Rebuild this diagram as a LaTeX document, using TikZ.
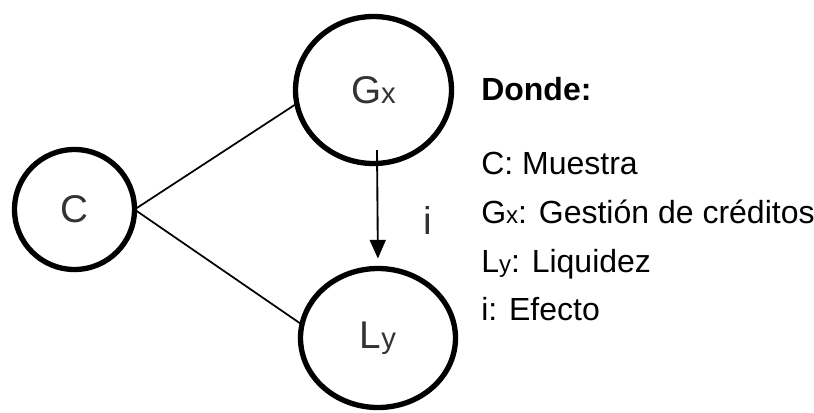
\documentclass[tikz,border=0pt]{standalone}
\usepackage{fontspec}
\setmainfont{Liberation Sans}
\usetikzlibrary{shapes.geometric,arrows.meta}
\begin{document}
\begin{tikzpicture}[x=0.75pt,y=-0.75pt,
  var/.style={ellipse,draw,line width=4pt,inner sep=0pt,outer sep=0pt,
    font=\fontsize{29}{34}\selectfont,text=black!80},
  link/.style={line width=1.3pt},
  effect/.style={line width=1.4pt,-{Triangle[length=14pt,width=12pt]}},
  legend/.style={anchor=base west,inner sep=0pt,font=\fontsize{24}{28}\selectfont},
  lbl/.style={inner sep=0pt,font=\fontsize{29}{34}\selectfont,text=black!80}]
\useasboundingbox (0,0) rectangle (814,412);
\node[var,minimum width=90pt,minimum height=90pt] (C) at (74.5,209.5) {C};
\node[var,minimum width=117pt,minimum height=110.25pt] (Gx) at (373.5,90) {G{\fontsize{22}{26}\selectfont x}};
\node[var,minimum width=116.25pt,minimum height=104.25pt] (Ly) at (378,338) {L{\fontsize{22}{26}\selectfont y}};
\coordinate (as) at (377,150);
\draw[link] (C.east) -- (Gx.190);
\draw[link] (C.east) -- (Ly.170);
\draw[effect,shorten >=7.5pt] (as) -- (Ly.north);
\node[lbl] (i) at (428,220) {i};
\node[legend,font=\bfseries\fontsize{24}{28}\selectfont] (donde) at (481,100) {Donde:};
\node[legend] (lc) at (481,174) {C: Muestra};
\node[legend] (lg) at (481,223) {G{\fontsize{18}{22}\selectfont x}: Gestión de créditos};
\node[legend] (ll) at (481,272) {L{\fontsize{18}{22}\selectfont y}: Liquidez};
\node[legend] (li) at (481,320) {i: Efecto};
\end{tikzpicture}
\end{document}
